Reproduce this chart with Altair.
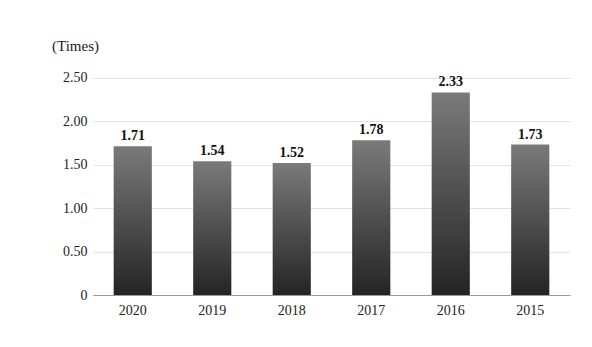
import altair as alt
import pandas as pd

years = ["2020", "2019", "2018", "2017", "2016", "2015"]
values = [1.71, 1.54, 1.52, 1.78, 2.33, 1.73]
labels = ["1.71", "1.54", "1.52", "1.78", "2.33", "1.73"]

df = pd.DataFrame({"year": years, "value": values, "label": labels})

FONT = "Liberation Serif"

base = alt.Chart(df).encode(
    x=alt.X("year:N", sort=years, title=None,
            scale=alt.Scale(paddingInner=0.52, paddingOuter=0.26),
            axis=alt.Axis(labelAngle=0, ticks=False, domainColor="#999999",
                          labelFont=FONT, labelFontSize=14, labelColor="#222222",
                          labelPadding=8, grid=False)),
)

bars = base.mark_bar(
    color=alt.Gradient(gradient="linear",
                       stops=[alt.GradientStop(color="#242424", offset=0),
                              alt.GradientStop(color="#7a7a7a", offset=1)],
                       x1=0, x2=0, y1=1, y2=0)
).encode(
    y=alt.Y("value:Q", scale=alt.Scale(domain=[0, 2.5]),
            title="(Times)",
            axis=alt.Axis(values=[0, 0.5, 1.0, 1.5, 2.0, 2.5],
                          labelExpr="datum.value == 0 ? '0' : format(datum.value, '.2f')",
                          ticks=False, domain=False, gridColor="#e2e2e2",
                          labelFont=FONT, labelFontSize=14, labelColor="#222222",
                          labelPadding=6,
                          titleAngle=0, titleX=-18, titleY=-24, titleAlign="center",
                          titleBaseline="middle", titleFont=FONT, titleFontSize=15,
                          titleFontWeight="normal", titleColor="#222222"))
)

text = base.mark_text(dy=-10, font=FONT, fontSize=14, fontWeight="bold", color="#111111").encode(
    y="value:Q", text="label:N"
)

chart = (bars + text).properties(
    width=477, height=226,
    autosize=alt.AutoSizeParams(type="none"),
    padding={"left": 93, "top": 69, "right": 22, "bottom": 52},
    background="white",
).configure_view(stroke=None)

chart.save("out.html", embed_options={"renderer": "svg", "actions": False})
